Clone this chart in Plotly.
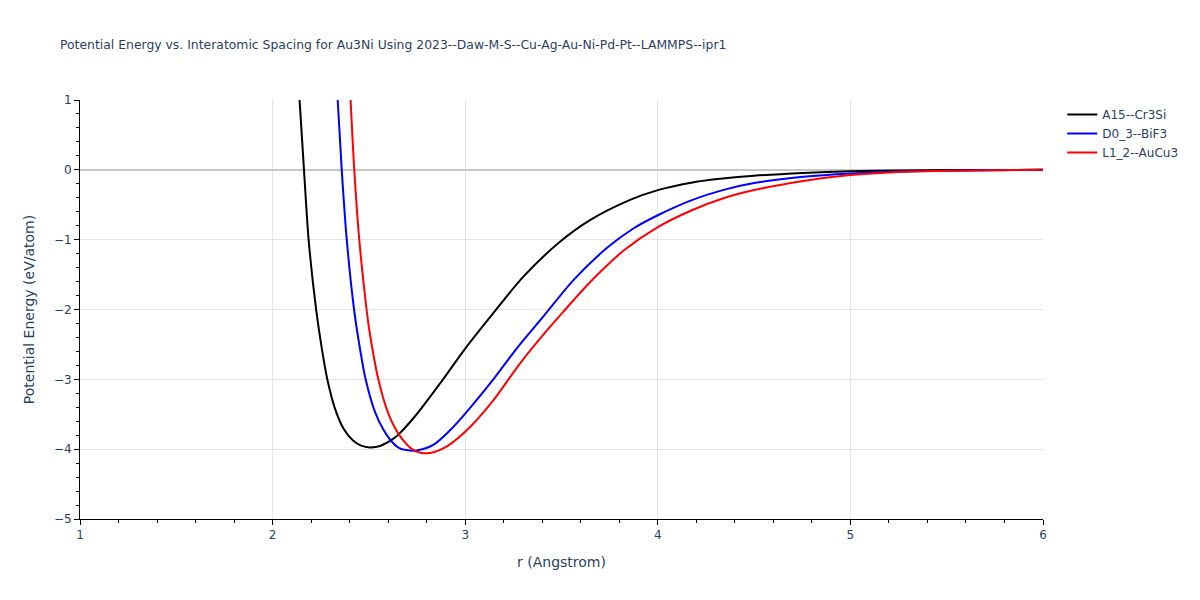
import plotly.graph_objects as go

# values
r_a15 = [2.14, 2.163, 2.187, 2.226, 2.255, 2.284, 2.324, 2.367, 2.419, 2.46,
         2.506, 2.558, 2.627, 2.661, 2.748, 2.869, 3.0, 3.129, 3.302, 3.492,
         3.648, 3.856, 4.0, 4.18, 4.337, 4.5, 4.755, 5.0, 5.25, 5.5, 6.0]
e_a15 = [1.0, 0.0, -1.0, -2.0, -2.55, -3.0, -3.42, -3.70, -3.88, -3.95,
         -3.975, -3.955, -3.85, -3.77, -3.50, -3.06, -2.56, -2.11, -1.53, -1.03,
         -0.72, -0.43, -0.29, -0.18, -0.125, -0.085, -0.045, -0.02, -0.008, -0.003, 0.0]

r_d03 = [2.338, 2.359, 2.385, 2.423, 2.45, 2.483, 2.532, 2.575, 2.618, 2.661,
         2.713, 2.748, 2.834, 2.921, 3.0, 3.146, 3.267, 3.406, 3.562, 3.735,
         3.873, 4.0, 4.18, 4.337, 4.5, 4.755, 5.0, 5.25, 5.5, 6.0]
e_d03 = [1.0, 0.0, -1.0, -2.0, -2.5, -3.0, -3.47, -3.72, -3.89, -3.99,
         -4.02, -4.02, -3.94, -3.73, -3.49, -3.0, -2.56, -2.10, -1.58, -1.12,
         -0.84, -0.65, -0.43, -0.29, -0.19, -0.10, -0.052, -0.025, -0.012, 0.0]

r_l12 = [2.405, 2.424, 2.45, 2.488, 2.502, 2.549, 2.601, 2.661, 2.73, 2.80,
         2.886, 3.0, 3.146, 3.285, 3.44, 3.51, 3.648, 3.821, 4.0, 4.18,
         4.337, 4.5, 4.755, 5.0, 5.25, 5.5, 6.0]
e_l12 = [1.0, 0.0, -1.0, -2.0, -2.29, -3.0, -3.49, -3.81, -4.01, -4.06,
         -3.99, -3.75, -3.30, -2.77, -2.25, -2.03, -1.61, -1.16, -0.82, -0.575,
         -0.41, -0.29, -0.16, -0.075, -0.03, -0.012, 0.0]

series = [
    ("A15--Cr3Si", r_a15, e_a15, "black"),
    ("D0_3--BiF3", r_d03, e_d03, "blue"),
    ("L1_2--AuCu3", r_l12, e_l12, "red"),
]

fig = go.Figure()
for name, r, e, color in series:
    fig.add_trace(
        go.Scatter(
            x=r,
            y=e,
            mode="lines",
            name=name,
            line=dict(color=color, width=2, shape="spline", smoothing=0.8),
        )
    )

axis_style = dict(
    showline=True,
    linecolor="black",
    linewidth=1,
    ticks="outside",
    ticklen=5,
    tickcolor="black",
    showgrid=True,
    gridcolor="#e3e3e3",
    zeroline=True,
    zerolinecolor="#c8c8c8",
    zerolinewidth=2,
    minor=dict(ticks="outside", ticklen=3, tickcolor="black", dtick=0.2, showgrid=False),
)

# the page puts the figure 8px in from the corner, so the figure is a bit
# smaller than the window and the margins are shifted to compensate
W, H = 1184, 584

fig.update_layout(
    title=dict(
        text="Potential Energy vs. Interatomic Spacing for Au3Ni Using 2023--Daw-M-S--Cu-Ag-Au-Ni-Pd-Pt--LAMMPS--ipr1",
        font=dict(size=12.4),
        x=52 / W,
        xanchor="left",
        y=1 - 37 / H,
        yanchor="middle",
    ),
    font=dict(family="DejaVu Sans, Verdana, sans-serif", size=12, color="#2a3f5f"),
    xaxis=dict(title=dict(text="r (Angstrom)", font=dict(size=14)), range=[1, 6], dtick=1, **axis_style),
    yaxis=dict(title=dict(text="Potential Energy (eV/atom)", font=dict(size=14)), range=[-5, 1], dtick=1, **axis_style),
    legend=dict(font=dict(size=12), x=1.02, y=1, xanchor="left", yanchor="top"),
    margin=dict(l=72, r=149, t=92, b=73, autoexpand=False),
    plot_bgcolor="white",
    paper_bgcolor="white",
    width=W,
    height=H,
)

fig.write_html("out.html")
